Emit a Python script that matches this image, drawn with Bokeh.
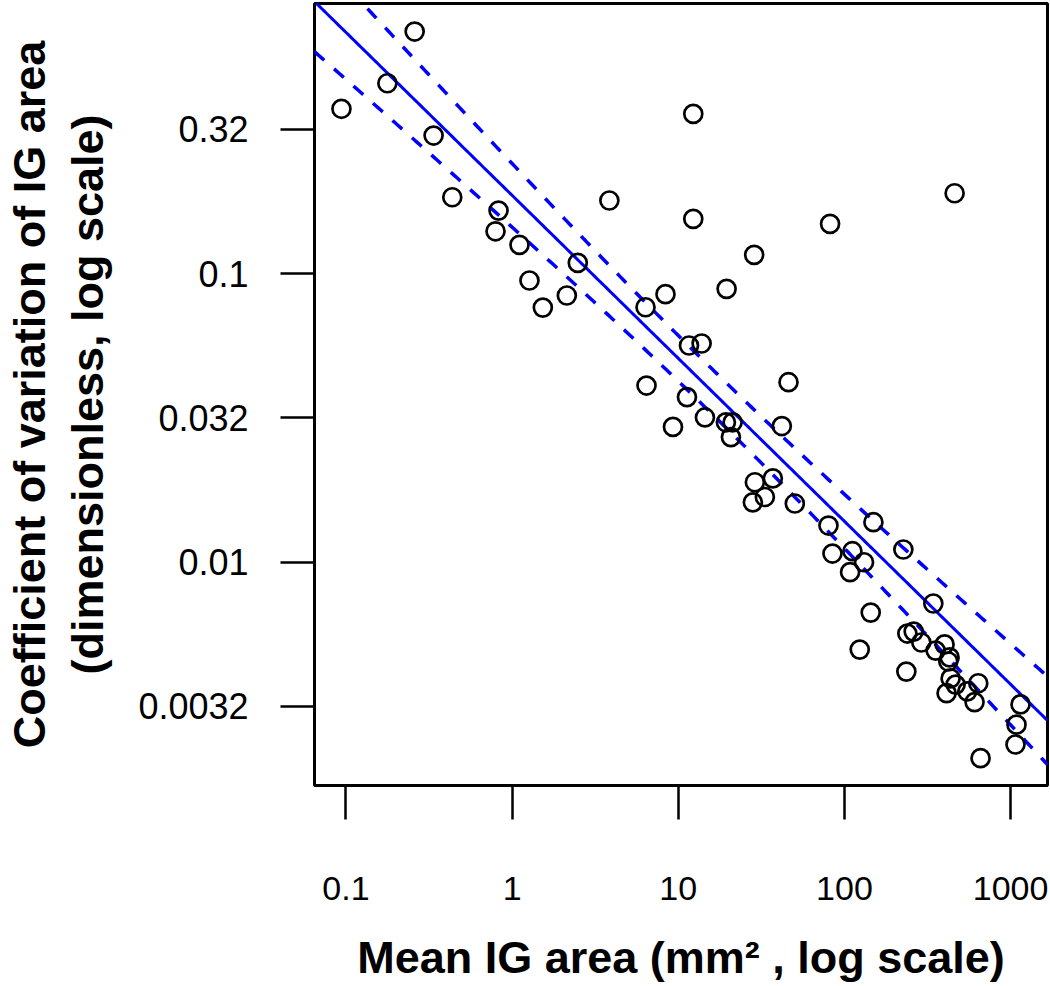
import numpy as np
from bokeh.plotting import figure
from bokeh.models import Range1d, FixedTicker, CustomJSTickFormatter, ColumnDataSource
from bokeh.embed import file_html
from bokeh.resources import INLINE

# ---- data ----
area = [0.0940, 0.1776, 0.2592, 0.3370, 0.4365, 0.8287, 0.7948, 1.108, 1.272, 1.531,
        2.135, 2.485, 3.849, 6.353, 6.441, 8.378, 11.6, 13.82, 11.28, 9.293,
        14.47, 12.31, 12.31, 19.54, 28.62, 19.35, 21.23, 20.74, 42.0, 46.07,
        28.9, 37.08, 33.19, 28.11, 50.27, 80.14, 81.94, 460.3, 149.4, 84.7,
        111.7, 131.2, 108.1, 226.2, 342.6, 143.9, 123.6, 239.1, 261.0, 290.2,
        400.6, 353.8, 429.3, 421.7, 235.8, 435.3, 466.7, 638.8, 411.8, 548.6,
        606.7, 1147, 1085, 1070, 659.4]
cv = [0.3724, 0.4566, 0.690, 0.3008, 0.1838, 0.1653, 0.1401, 0.1257, 0.0946, 0.0762,
      0.0839, 0.1089, 0.1791, 0.0764, 0.0409, 0.0848, 0.0563, 0.0572, 0.0373, 0.0294,
      0.0317, 0.3578, 0.1547, 0.0885, 0.1161, 0.0305, 0.0305, 0.0271, 0.0296, 0.0420,
      0.0189, 0.0195, 0.0168, 0.0161, 0.01595, 0.01338, 0.1487, 0.1898, 0.01374, 0.01070,
      0.0109, 0.00998, 0.00922, 0.01105, 0.00718, 0.00668, 0.00497, 0.00565, 0.00574, 0.00526,
      0.00518, 0.00493, 0.00467, 0.00452, 0.00417, 0.00395, 0.00376, 0.0038, 0.00351, 0.00356,
      0.00327, 0.00321, 0.00273, 0.00233, 0.00209]

x_ticks = [0.1, 1, 10, 100, 1000]
x_tick_labels = ["0.1", "1", "10", "100", "1000"]
y_ticks = [10 ** -0.5, 10 ** -1.0, 10 ** -1.5, 10 ** -2.0, 10 ** -2.5]
y_tick_labels = ["0.32", "0.1", "0.032", "0.01", "0.0032"]

# regression in log10 space
fit_intercept = -0.729   # log10(CV) at area = 1
fit_slope = -0.565
band_center = 1.2        # log10(area) where the band is narrowest
band_min = 0.078         # half-width there (log10 units)
band_growth = 0.065

x_limits = (0.0647, 1667.0)
y_limits = (0.00168, 0.863)

# ---- figure ----
p = figure(width=1050, height=986, x_axis_type="log", y_axis_type="log",
           x_range=Range1d(*x_limits), y_range=Range1d(*y_limits),
           output_backend="svg", toolbar_location=None,
           min_border_left=313, min_border_right=3, min_border_top=3, min_border_bottom=201)
p.background_fill_color = "white"
p.border_fill_color = "white"
p.outline_line_color = "black"
p.outline_line_width = 3
p.xgrid.visible = False
p.ygrid.visible = False

u = np.linspace(np.log10(x_limits[0]), np.log10(x_limits[1]), 300)
v = fit_intercept + fit_slope * u
h = np.sqrt(band_min ** 2 + (band_growth * (u - band_center)) ** 2)
fit_src = ColumnDataSource(dict(x=10 ** u, y=10 ** v, lo=10 ** (v - h), hi=10 ** (v + h)))

p.line("x", "y", source=fit_src, line_color="#0000FF", line_width=3)
p.line("x", "hi", source=fit_src, line_color="#0000FF", line_width=3.5, line_dash="13 13")
p.line("x", "lo", source=fit_src, line_color="#0000FF", line_width=3.5, line_dash="13 13")

p.scatter(area, cv, marker="circle", size=18, fill_color=None,
          line_color="black", line_width=2.7)

fmt_code = """
for (let i = 0; i < vals.length; i++) {
  if (Math.abs(Math.log10(vals[i]) - Math.log10(tick)) < 1e-6) return labs[i];
}
return "";
"""

title_font = "Liberation Sans"
tick_font = "Liberation Sans"

xa = p.xaxis[0]
xa.ticker = FixedTicker(ticks=x_ticks, minor_ticks=[])
xa.formatter = CustomJSTickFormatter(args=dict(vals=x_ticks, labs=x_tick_labels), code=fmt_code)
xa.axis_label = "Mean IG area (mm² , log scale)"

ya = p.yaxis[0]
ya.ticker = FixedTicker(ticks=y_ticks, minor_ticks=[])
ya.formatter = CustomJSTickFormatter(args=dict(vals=y_ticks, labs=y_tick_labels), code=fmt_code)
ya.axis_label = "Coefficient of variation of IG area\n(dimensionless, log scale)"

for ax in (xa, ya):
    ax.axis_line_color = None
    ax.major_tick_line_color = "black"
    ax.major_tick_line_width = 2.5
    ax.major_tick_out = 34
    ax.major_tick_in = 0
    ax.minor_tick_line_color = None
    ax.major_label_text_font = tick_font
    ax.major_label_text_color = "black"
    ax.axis_label_text_font = title_font
    ax.axis_label_text_font_style = "bold"
    ax.axis_label_text_font_size = "45px"
    ax.axis_label_text_color = "black"

xa.major_label_text_font_size = "34px"
ya.major_label_text_font_size = "36px"
xa.major_label_standoff = 57
xa.axis_label_standoff = 29
xa.axis_label_text_line_height = 1.1
ya.major_label_standoff = 32
ya.axis_label_standoff = 22
ya.axis_label_text_line_height = 1.15
ya.major_label_orientation = "horizontal"

open("out.html", "w").write(file_html(p, INLINE))
